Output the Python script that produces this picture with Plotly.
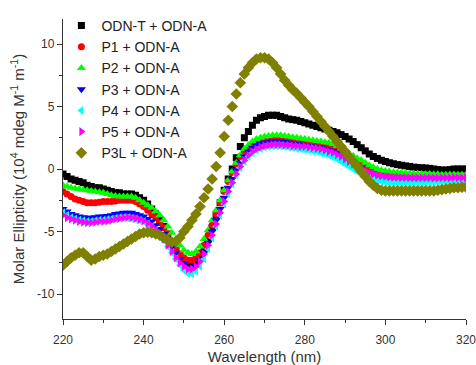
import plotly.graph_objects as go

wavelength = list(range(220, 321))

odn_t = [-0.4, -0.6, -0.8, -0.9, -1.0, -1.1, -1.3, -1.4, -1.5, -1.5,
         -1.6, -1.7, -1.8, -1.9, -1.9, -2.0, -2.0, -2.0, -2.1, -2.3,
         -2.5, -2.8, -3.2, -3.6, -4.1, -4.6, -5.2, -5.8, -6.4, -6.9,
         -7.3, -7.5, -7.6, -7.4, -7.0, -6.4, -5.6, -4.7, -3.7, -2.7,
         -1.7, -0.8, 0.0, 0.9, 1.8, 2.5, 3.0, 3.5, 3.9, 4.1,
         4.2, 4.3, 4.3, 4.3, 4.2, 4.1, 4.0, 3.95, 3.9, 3.8,
         3.7, 3.6, 3.5, 3.4, 3.3, 3.2, 3.1, 3.0, 2.9, 2.75,
         2.6, 2.4, 2.2, 1.95, 1.7, 1.45, 1.2, 1.0, 0.85, 0.7,
         0.6, 0.5, 0.42, 0.35, 0.3, 0.25, 0.2, 0.15, 0.12, 0.1,
         0.08, 0.05, 0.0, -0.05, -0.08, -0.08, -0.05, 0.0, 0.0, 0.0,
         0.0]

p1 = [-1.8, -2.0, -2.2, -2.4, -2.5, -2.6, -2.7, -2.7, -2.7, -2.65,
      -2.6, -2.6, -2.6, -2.55, -2.5, -2.5, -2.5, -2.5, -2.6, -2.8,
      -3.0, -3.3, -3.6, -3.9, -4.3, -4.7, -5.2, -5.8, -6.4, -6.8,
      -7.1, -7.3, -7.3, -7.1, -6.7, -6.1, -5.3, -4.5, -3.6, -2.7,
      -1.8, -1.0, -0.3, 0.4, 1.0, 1.4, 1.7, 1.95, 2.1, 2.2,
      2.3, 2.35, 2.4, 2.4, 2.4, 2.35, 2.3, 2.3, 2.25, 2.2,
      2.2, 2.15, 2.1, 2.05, 2.0, 1.9, 1.8, 1.7, 1.55, 1.4,
      1.2, 1.0, 0.8, 0.6, 0.4, 0.2, 0.05, -0.1, -0.2, -0.3,
      -0.35, -0.4, -0.45, -0.5, -0.5, -0.52, -0.55, -0.55, -0.55, -0.55,
      -0.55, -0.55, -0.6, -0.6, -0.6, -0.6, -0.58, -0.58, -0.6, -0.6,
      -0.6]

p2 = [-1.3, -1.4, -1.5, -1.55, -1.6, -1.65, -1.7, -1.75, -1.8, -1.85,
      -1.9, -2.0, -2.1, -2.15, -2.2, -2.2, -2.2, -2.2, -2.3, -2.5,
      -2.7, -2.9, -3.1, -3.4, -3.7, -4.1, -4.6, -5.1, -5.6, -6.1,
      -6.5, -6.7, -6.8, -6.6, -6.2, -5.6, -4.9, -4.1, -3.3, -2.5,
      -1.7, -0.9, -0.2, 0.5, 1.1, 1.6, 1.9, 2.2, 2.4, 2.5,
      2.6, 2.65, 2.7, 2.7, 2.7, 2.65, 2.6, 2.55, 2.5, 2.45,
      2.4, 2.35, 2.3, 2.25, 2.2, 2.15, 2.1, 2.0, 1.85, 1.65,
      1.45, 1.25, 1.05, 0.85, 0.7, 0.5, 0.3, 0.15, 0.0, -0.1,
      -0.15, -0.2, -0.25, -0.28, -0.3, -0.32, -0.35, -0.35, -0.38, -0.4,
      -0.4, -0.4, -0.42, -0.42, -0.45, -0.45, -0.43, -0.43, -0.45, -0.45,
      -0.45]

p3 = [-3.2, -3.4, -3.6, -3.7, -3.8, -3.85, -3.9, -3.9, -3.85, -3.8,
      -3.8, -3.75, -3.7, -3.6, -3.55, -3.5, -3.5, -3.5, -3.6, -3.7,
      -3.8, -4.0, -4.2, -4.5, -4.8, -5.2, -5.7, -6.2, -6.7, -7.2,
      -7.6, -7.85, -7.9, -7.7, -7.3, -6.7, -5.9, -5.0, -4.1, -3.2,
      -2.3, -1.5, -0.8, -0.1, 0.5, 1.0, 1.4, 1.7, 1.9, 2.0,
      2.1, 2.15, 2.2, 2.2, 2.2, 2.15, 2.1, 2.05, 2.0, 1.95,
      1.9, 1.85, 1.8, 1.75, 1.7, 1.6, 1.5, 1.4, 1.25, 1.05,
      0.85, 0.65, 0.45, 0.25, 0.05, -0.15, -0.3, -0.45, -0.55, -0.65,
      -0.7, -0.75, -0.8, -0.82, -0.85, -0.85, -0.88, -0.88, -0.9, -0.9,
      -0.9, -0.9, -0.92, -0.92, -0.9, -0.9, -0.9, -0.88, -0.9, -0.9,
      -0.9]

p4 = [-3.5, -3.7, -3.9, -4.0, -4.1, -4.15, -4.2, -4.2, -4.15, -4.1,
      -4.1, -4.05, -4.0, -3.95, -3.9, -3.9, -3.9, -3.95, -4.0, -4.1,
      -4.2, -4.4, -4.6, -4.9, -5.3, -5.7, -6.2, -6.7, -7.2, -7.7,
      -8.1, -8.35, -8.4, -8.2, -7.8, -7.2, -6.4, -5.5, -4.6, -3.7,
      -2.8, -2.0, -1.2, -0.5, 0.1, 0.6, 1.0, 1.3, 1.5, 1.65,
      1.75, 1.8, 1.85, 1.85, 1.85, 1.8, 1.75, 1.7, 1.65, 1.6,
      1.55, 1.5, 1.45, 1.4, 1.3, 1.2, 1.1, 0.95, 0.8, 0.6,
      0.4, 0.2, 0.0, -0.2, -0.4, -0.55, -0.7, -0.85, -0.95, -1.0,
      -1.05, -1.1, -1.1, -1.1, -1.1, -1.1, -1.1, -1.1, -1.1, -1.1,
      -1.1, -1.08, -1.08, -1.05, -1.05, -1.05, -1.02, -1.02, -1.0, -1.0,
      -1.0]

p5 = [-3.7, -3.9, -4.0, -4.1, -4.2, -4.25, -4.3, -4.3, -4.25, -4.2,
      -4.2, -4.15, -4.1, -4.0, -3.95, -3.9, -3.85, -3.9, -3.95, -4.05,
      -4.15, -4.35, -4.55, -4.85, -5.2, -5.6, -6.1, -6.6, -7.1, -7.5,
      -7.8, -8.0, -8.0, -7.8, -7.4, -6.8, -6.1, -5.3, -4.4, -3.5,
      -2.6, -1.8, -1.1, -0.4, 0.2, 0.7, 1.1, 1.4, 1.6, 1.75,
      1.85, 1.9, 1.95, 1.95, 1.95, 1.9, 1.9, 1.85, 1.85, 1.8,
      1.8, 1.75, 1.7, 1.65, 1.6, 1.5, 1.4, 1.3, 1.15, 1.0,
      0.8, 0.6, 0.4, 0.2, 0.0, -0.15, -0.3, -0.4, -0.5, -0.55,
      -0.6, -0.62, -0.65, -0.65, -0.68, -0.68, -0.7, -0.7, -0.7, -0.7,
      -0.7, -0.7, -0.72, -0.72, -0.7, -0.7, -0.7, -0.68, -0.7, -0.7,
      -0.7]

p3l = [-7.7, -7.4, -7.1, -6.9, -6.7, -6.7, -7.0, -7.3, -7.2, -7.0,
       -6.9, -6.8, -6.6, -6.4, -6.2, -6.0, -5.8, -5.6, -5.4, -5.2,
       -5.1, -5.05, -5.1, -5.2, -5.3, -5.5, -5.7, -5.85, -5.8, -5.5,
       -5.0, -4.6, -4.1, -3.6, -3.0, -2.3, -1.6, -0.8, 0.2, 1.3,
       2.6, 3.9, 5.0, 6.0, 6.9, 7.6, 8.1, 8.5, 8.8, 8.9,
       8.9, 8.8, 8.5, 8.1, 7.6, 7.1, 6.7, 6.35, 6.05, 5.7,
       5.35, 5.0, 4.6, 4.2, 3.8, 3.4, 3.0, 2.6, 2.2, 1.8,
       1.4, 1.0, 0.6, 0.2, -0.2, -0.6, -1.0, -1.3, -1.55, -1.7,
       -1.75, -1.75, -1.75, -1.75, -1.75, -1.75, -1.75, -1.75, -1.75, -1.75,
       -1.75, -1.75, -1.75, -1.7, -1.65, -1.6, -1.55, -1.5, -1.5, -1.45,
       -1.45]

series_names = ["ODN-T + ODN-A", "P1 + ODN-A", "P2 + ODN-A", "P3 + ODN-A",
                "P4 + ODN-A", "P5 + ODN-A", "P3L + ODN-A"]
series_values = [odn_t, p1, p2, p3, p4, p5, p3l]
colors = ["#000000", "#ff0000", "#00ff00", "#0000ff", "#00ffff", "#ff00ff", "#808000"]
symbols = ["square", "circle", "triangle-up", "triangle-down",
           "triangle-left", "triangle-right", "diamond"]
sizes = [7, 7, 8, 8, 8, 8, 9]

x_ticks = [220, 240, 260, 280, 300, 320]
y_ticks = [-10, -5, 0, 5, 10]

fig = go.Figure()
for name, vals, c, s, sz in zip(series_names, series_values, colors, symbols, sizes):
    fig.add_trace(go.Scatter(
        x=wavelength, y=vals, mode="markers", name=name,
        marker=dict(color=c, symbol=s, size=sz, line=dict(width=0)),
    ))

font_family = "Liberation Sans, Arial, sans-serif"
fig.update_layout(
    width=476, height=365,
    margin=dict(l=63, r=10, t=13, b=46),
    plot_bgcolor="white", paper_bgcolor="white",
    font=dict(family=font_family, size=12, color="#333333"),
    showlegend=True,
    legend=dict(x=-0.004, y=1.03, xanchor="left", yanchor="top",
                bgcolor="rgba(0,0,0,0)", font=dict(size=14, color="#222222"),
                tracegroupgap=0, itemsizing="trace"),
    xaxis=dict(
        range=[220, 320], tickvals=x_ticks, ticktext=[str(t) for t in x_ticks],
        ticks="outside", ticklen=5, tickwidth=1, tickcolor="#333333",
        showline=True, linecolor="#333333", linewidth=1.3,
        showgrid=False, zeroline=False, mirror=False, automargin=False,
        ticklabeloverflow="allow", ticklabelstandoff=4,
        minor=dict(ticks="outside", ticklen=3, tickcolor="#333333", dtick=10, tick0=220, showgrid=False),
        title=dict(text="Wavelength (nm)", font=dict(size=15, color="#333333"), standoff=8),
        tickfont=dict(size=12, color="#333333"),
    ),
    yaxis=dict(
        range=[-12, 12], tickvals=y_ticks, ticktext=[str(t) for t in y_ticks],
        ticks="outside", ticklen=5, tickwidth=1, tickcolor="#333333",
        showline=True, linecolor="#333333", linewidth=1.3,
        showgrid=False, zeroline=False, mirror=False, automargin=False,
        minor=dict(ticks="outside", ticklen=3, tickcolor="#333333", dtick=2.5, tick0=0, showgrid=False),
        title=dict(text="Molar Ellipticity (10<sup>4</sup> mdeg M<sup>-1</sup> m<sup>-1</sup>)",
                   font=dict(size=15, color="#333333"), standoff=8),
        tickfont=dict(size=12, color="#333333"),
    ),
)

fig.write_html("out.html")
